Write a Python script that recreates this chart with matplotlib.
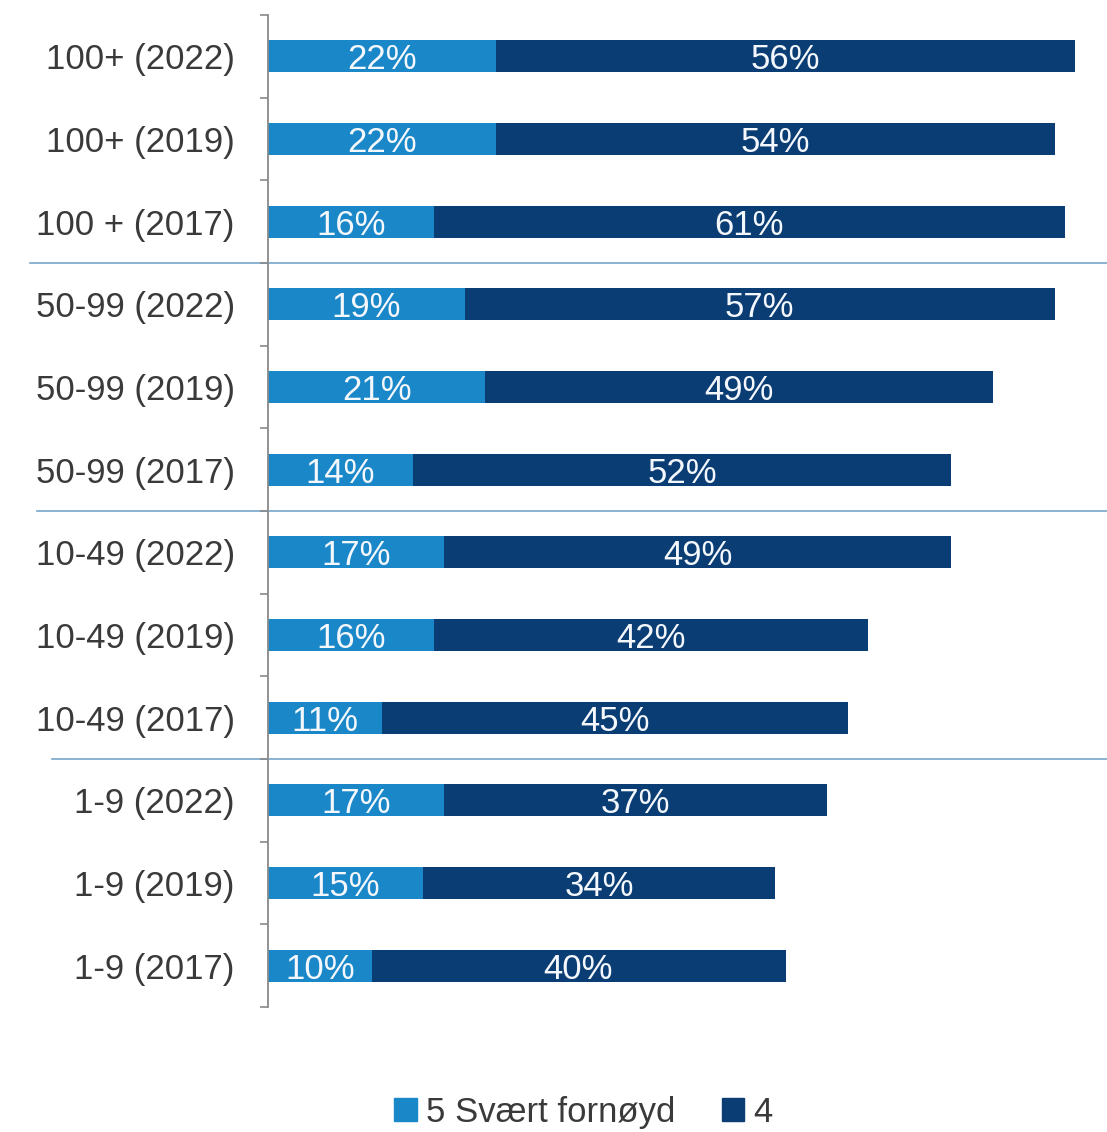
import numpy as np
import matplotlib
matplotlib.use("Agg")
import matplotlib.pyplot as plt
from matplotlib.patches import Patch

plt.rcParams['font.family'] = ['Liberation Sans', 'DejaVu Sans']

# data (top to bottom)
categories = ["100+ (2022)", "100+ (2019)", "100 + (2017)",
              "50-99 (2022)", "50-99 (2019)", "50-99 (2017)",
              "10-49 (2022)", "10-49 (2019)", "10-49 (2017)",
              "1-9 (2022)", "1-9 (2019)", "1-9 (2017)"]
svaert_fornoyd = [22, 22, 16, 19, 21, 14, 17, 16, 11, 17, 15, 10]
fire = [56, 54, 61, 57, 49, 52, 49, 42, 45, 37, 34, 40]
series_names = ["5 Svært fornøyd", "4"]

c_light = "#1a87c8"
c_dark = "#0a3d74"

fig = plt.figure(figsize=(11.07, 11.32), dpi=100)
ax = fig.add_axes([268 / 1107, 1 - 1007 / 1132, 1 - 268 / 1107, (1007 - 15) / 1132])

y = np.arange(len(categories))
h = 0.39
b1 = ax.barh(y, svaert_fornoyd, height=h, color=c_light)
b2 = ax.barh(y, fire, left=svaert_fornoyd, height=h, color=c_dark)

for bars in (b1, b2):
    for r in bars:
        w = r.get_width()
        ax.text(r.get_x() + w / 2, r.get_y() + r.get_height() / 2, f"{w:.0f}%",
                ha="center", va="center_baseline", color="#f4f8fc", fontsize=25)

ax.set_ylim(len(categories) - 0.5, -0.5)
ax.set_xlim(0, (1107 - 268) / 10.35)

ax.set_yticks(y)
ax.set_yticklabels(categories, fontsize=25, color="#3a3a3a", va="center_baseline")
ax.tick_params(axis="y", which="major", length=0, pad=24)
ax.set_yticks(np.arange(-0.5, len(categories)), minor=True)
ax.tick_params(axis="y", which="minor", length=6, width=1.2, color="#8a8a8a", direction="out")
ax.set_xticks([])

for s in ["top", "right", "bottom"]:
    ax.spines[s].set_visible(False)
ax.spines["left"].set_color("#8a8a8a")
ax.spines["left"].set_linewidth(1.3)

# group separators
for yb, x0 in zip([2.5, 5.5, 8.5], [-0.284, -0.275, -0.257]):
    ax.axhline(yb, xmin=x0, xmax=1, color="#78a6cc", linewidth=1.2, clip_on=False, zorder=0)

handles = [Patch(color=c_light), Patch(color=c_dark)]
fig.legend(handles, series_names, loc="lower center", bbox_to_anchor=(0.527, -0.025),
           ncol=2, frameon=False, fontsize=25, handlelength=0.65, handleheight=0.65,
           handletextpad=0.25, columnspacing=1.35, labelcolor="#3a3a3a")

fig.savefig("out.png", dpi=100)
